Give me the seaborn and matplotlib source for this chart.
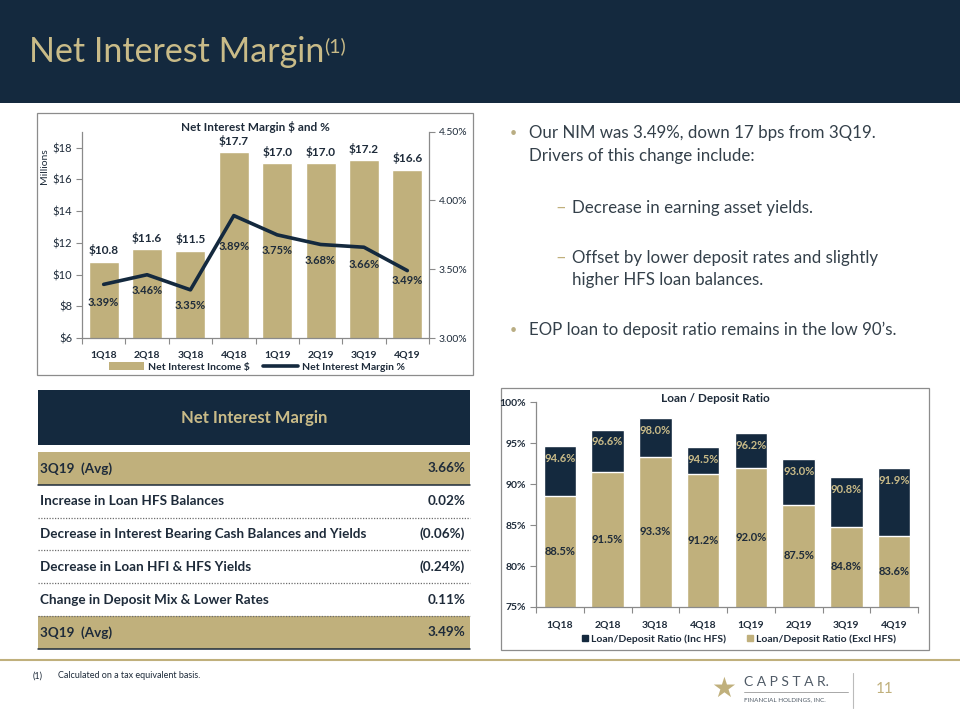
import matplotlib
matplotlib.use("Agg")
import matplotlib.pyplot as plt
from matplotlib.patches import Rectangle, Patch
from matplotlib.lines import Line2D
import seaborn as sns
import pandas as pd
import numpy as np

# ---------------- data ----------------
quarters = ["1Q18", "2Q18", "3Q18", "4Q18", "1Q19", "2Q19", "3Q19", "4Q19"]
nii_millions = [10.8, 11.6, 11.5, 17.7, 17.0, 17.0, 17.2, 16.6]
nim_pct = [3.39, 3.46, 3.35, 3.89, 3.75, 3.68, 3.66, 3.49]
ld_inc_hfs = [94.6, 96.6, 98.0, 94.5, 96.2, 93.0, 90.8, 91.9]
ld_excl_hfs = [88.5, 91.5, 93.3, 91.2, 92.0, 87.5, 84.8, 83.6]
nii_ticks = [6, 8, 10, 12, 14, 16, 18]
nim_ticks = [3.00, 3.50, 4.00, 4.50]
ld_ticks = [75, 80, 85, 90, 95, 100]
table_items = ["3Q19  (Avg)", "Increase in Loan HFS Balances",
               "Decrease in Interest Bearing Cash Balances and Yields",
               "Decrease in Loan HFI & HFS Yields",
               "Change in Deposit Mix & Lower Rates", "3Q19  (Avg)"]
table_values = ["3.66%", "0.02%", "(0.06%)", "(0.24%)", "0.11%", "3.49%"]

# ---------------- style ----------------
sns.set_theme(style="white")
plt.rcParams['font.family'] = ['Lato', 'DejaVu Sans']
plt.rcParams['text.parse_math'] = False

NAVY = "#14293e"
GOLD = "#c0b07c"
TITLE_GOLD = "#c9bb88"
DARK = "#1e2b3a"
GRAY = "#8a8a8a"
TEXT = "#34404a"

W, H = 960, 720
fig = plt.figure(figsize=(9.6, 7.2), dpi=100)


def frac(x0, y0, x1, y1):
    return [x0 / W, 1 - y1 / H, (x1 - x0) / W, (y1 - y0) / H]


# canvas axes in pixel coordinates
cax = fig.add_axes([0, 0, 1, 1])
cax.set_xlim(0, W)
cax.set_ylim(H, 0)
cax.axis('off')

# header
cax.add_patch(Rectangle((0, 0), W, 103, color=NAVY, lw=0))
t = cax.text(29, 52, "Net Interest Margin", color=TITLE_GOLD, fontsize=24.5,
             va='center', ha='left')
cax.annotate("(1)", xy=(1.0, 0.97), xycoords=t, va='top', ha='left',
             fontsize=14, color=TITLE_GOLD)

# chart borders
cax.add_patch(Rectangle((37, 113), 436, 262, fill=False, ec="#8c8c8c", lw=0.9))
cax.add_patch(Rectangle((501, 388), 428, 262, fill=False, ec="#8c8c8c", lw=0.9))

# ---------------- left chart ----------------
df = pd.DataFrame({"Quarter": quarters, "NII": nii_millions, "NIM": nim_pct})
df["pos"] = np.arange(len(df))

ax1 = fig.add_axes(frac(82, 131.7, 429, 338))
sns.barplot(data=df, x="Quarter", y="NII", color=GOLD, saturation=1,
            width=0.69, ax=ax1)
ax1.set_ylim(6, 19)
ax1.set_yticks(nii_ticks)
ax1.set_yticklabels([f"${v}" for v in nii_ticks])
ax1.bar_label(ax1.containers[0], labels=[f"${v:.1f}" for v in nii_millions],
              padding=4, fontsize=8.5, fontweight='bold', color=DARK)

ax2 = ax1.twinx()
sns.lineplot(data=df, x="pos", y="NIM", color=NAVY, lw=2.6, ax=ax2)
ax2.set_ylim(3.0, 4.5)
ax2.set_yticks(nim_ticks)
ax2.set_yticklabels([f"{v:.2f}%" for v in nim_ticks])
ax1.set_xlim(-0.5, len(quarters) - 0.5)
label_offsets = [-18, -16, -16, -31, -16, -16, -17, -10]
for i, v in enumerate(nim_pct):
    ax2.annotate(f"{v:.2f}%", (i, v), xytext=(0, label_offsets[i]),
                 textcoords='offset pixels', ha='center', va='center',
                 fontsize=8, fontweight='bold', color=DARK)

for a in (ax1, ax2):
    a.set_xlabel("")
    a.set_ylabel("")
    a.set_facecolor("none")
    for s in a.spines.values():
        s.set_visible(False)
ax1.spines['left'].set_visible(True)
ax1.spines['bottom'].set_visible(True)
ax2.spines['right'].set_visible(True)
for s in (ax1.spines['left'], ax1.spines['bottom'], ax2.spines['right']):
    s.set_color(GRAY)
    s.set_linewidth(0.9)
ax1.set_xticks(np.arange(-0.5, len(quarters), 1), minor=True)
ax1.tick_params(axis='x', which='major', bottom=False, labelsize=7.5,
                labelcolor=DARK, pad=3)
ax1.tick_params(axis='x', which='minor', bottom=True, length=4, color=GRAY,
                width=0.8)
ax1.tick_params(axis='y', left=True, length=4, color=GRAY, width=0.8,
                labelsize=8, labelcolor=DARK, pad=3)
ax2.tick_params(axis='y', right=True, length=4, color=GRAY, width=0.8,
                labelsize=7.5, labelcolor=DARK, pad=3)
for lab in ax1.get_xticklabels():
    lab.set_fontweight('bold')

cax.text(255, 127, "Net Interest Margin $ and %", fontsize=8.5,
         fontweight='bold', ha='center', va='center', color=DARK)
cax.text(45, 166, "Millions", rotation=90, fontsize=7.5, ha='center',
         va='center', color=DARK)

fig.legend([Patch(fc=GOLD, ec='none'), Line2D([], [], color=NAVY, lw=2.6)],
           ["Net Interest Income $", "Net Interest Margin %"],
           loc='center', bbox_to_anchor=(257 / W, 1 - 367 / H), ncol=2,
           frameon=False, prop=dict(size=7.5, weight='bold'),
           handlelength=3.4, handleheight=0.7, columnspacing=1.2,
           handletextpad=0.4, labelcolor=DARK)

# ---------------- right chart ----------------
ld = pd.DataFrame({"Quarter": quarters, "Inc": ld_inc_hfs, "Excl": ld_excl_hfs})
ax3 = fig.add_axes(frac(536, 402, 918, 607))
sns.barplot(data=ld, x="Quarter", y="Inc", color=NAVY, saturation=1,
            width=0.685, ax=ax3)
sns.barplot(data=ld, x="Quarter", y="Excl", color=GOLD, saturation=1,
            width=0.685, ax=ax3)
ax3.set_ylim(75, 100)
ax3.set_yticks(ld_ticks)
ax3.set_yticklabels([f"{v}%" for v in ld_ticks])
ax3.set_xlabel("")
ax3.set_ylabel("")
ax3.set_facecolor("none")
for s in ax3.spines.values():
    s.set_visible(False)
for k in ('left', 'bottom'):
    ax3.spines[k].set_visible(True)
    ax3.spines[k].set_color(GRAY)
    ax3.spines[k].set_linewidth(0.9)
ax3.set_xticks(np.arange(-0.5, len(quarters), 1), minor=True)
ax3.tick_params(axis='x', which='major', bottom=False, labelsize=7.5,
                labelcolor=DARK, pad=4)
ax3.tick_params(axis='x', which='minor', bottom=True, length=4, color=GRAY,
                width=0.8)
ax3.tick_params(axis='y', left=True, length=4, color=GRAY, width=0.8,
                labelsize=7.5, labelcolor=DARK, pad=3)
for lab in ax3.get_xticklabels() + ax3.get_yticklabels():
    lab.set_fontweight('bold')

for i, (vi, ve) in enumerate(zip(ld_inc_hfs, ld_excl_hfs)):
    ax3.annotate(f"{vi:.1f}%", (i, vi), xytext=(0, -12),
                 textcoords='offset pixels', ha='center', va='center',
                 fontsize=8, fontweight='bold', color=TITLE_GOLD)
    ax3.text(i, (ld_ticks[0] + ve) / 2, f"{ve:.1f}%", ha='center',
             va='center', fontsize=8, fontweight='bold', color=DARK)

cax.text(715, 399, "Loan / Deposit Ratio", fontsize=8.5, fontweight='bold',
         ha='center', va='center', color=DARK)
fig.legend([Line2D([], [], ls='none', marker='s', ms=4.5, color=NAVY),
            Line2D([], [], ls='none', marker='s', ms=4.5, color=GOLD)],
           ["Loan/Deposit Ratio (Inc HFS)", "Loan/Deposit Ratio (Excl HFS)"],
           loc='center', bbox_to_anchor=(739 / W, 1 - 639 / H), ncol=2,
           frameon=False, prop=dict(size=7.5, weight='bold'),
           handlelength=0.6, columnspacing=2.0, handletextpad=0.3,
           labelcolor=DARK)

# ---------------- table ----------------
cax.add_patch(Rectangle((38, 390), 432, 55, color=NAVY, lw=0))
cax.text(254, 418, "Net Interest Margin", color=TITLE_GOLD, fontsize=12,
         fontweight='bold', ha='center', va='center')
row_h = 32.8
row_top = 452
last = len(table_items) - 1
for i, (lab, val) in enumerate(zip(table_items, table_values)):
    top = row_top + i * row_h
    mid = top + row_h / 2
    if i == 0 or i == last:
        cax.add_patch(Rectangle((38, top), 432, row_h, color=GOLD, lw=0))
    cax.text(40, mid, lab, fontsize=9.7, fontweight='bold', color=DARK,
             ha='left', va='center')
    cax.text(465, mid, val, fontsize=9.7, fontweight='bold', color=DARK,
             ha='right', va='center')
    bottom = top + row_h
    if i == 0 or i == last:
        cax.plot([38, 470], [bottom, bottom], color=DARK, lw=1.1)
    else:
        cax.plot([38, 470], [bottom, bottom], color="#6d6d6d", lw=0.9,
                 ls=(0, (1, 1.2)))

# ---------------- bullet text ----------------
BUL = "#b9ad83"
fs = 12.2
cax.text(513, 133, "•", color=BUL, fontsize=9, ha='center', va='center')
cax.text(529, 133, "Our NIM was 3.49%, down 17 bps from 3Q19.", fontsize=fs,
         color=TEXT, va='center')
cax.text(529, 156, "Drivers of this change include:", fontsize=fs,
         color=TEXT, va='center')
cax.text(561, 208, "–", color=GOLD, fontsize=fs + 1, ha='center', va='center')
cax.text(572, 208, "Decrease in earning asset yields.", fontsize=fs,
         color=TEXT, va='center')
cax.text(561, 258, "–", color=GOLD, fontsize=fs + 1, ha='center', va='center')
cax.text(572, 258, "Offset by lower deposit rates and slightly", fontsize=fs,
         color=TEXT, va='center')
cax.text(572, 280, "higher HFS loan balances.", fontsize=fs, color=TEXT,
         va='center')
cax.text(513, 330, "•", color=BUL, fontsize=9, ha='center', va='center')
cax.text(529, 330, "EOP loan to deposit ratio remains in the low 90’s.",
         fontsize=fs, color=TEXT, va='center')

# ---------------- footer ----------------
cax.axhline(660, color=GOLD, lw=1.5)
cax.text(33, 676, "(1)", fontsize=6.5, color=DARK, va='center')
cax.text(58, 676, "Calculated on a tax equivalent basis.", fontsize=6.5,
         color=DARK, va='center')
cax.text(724, 689, "★", fontsize=20, color=GOLD, ha='center', va='center',
         family='DejaVu Sans')
cax.text(744, 682, "C A P S T A R.", fontsize=10, color="#4f5a66", va='center')
cax.plot([744, 848], [692, 692], color="#9a9a9a", lw=0.6)
cax.text(744, 700, "FINANCIAL HOLDINGS, INC.", fontsize=4.5, color="#4f5a66",
         va='center')
cax.plot([853, 853], [673, 708], color="#bbbbbb", lw=0.8)
cax.text(885, 689, "11", fontsize=11, color=GOLD, ha='center', va='center')

fig.savefig("out.png", dpi=100)
